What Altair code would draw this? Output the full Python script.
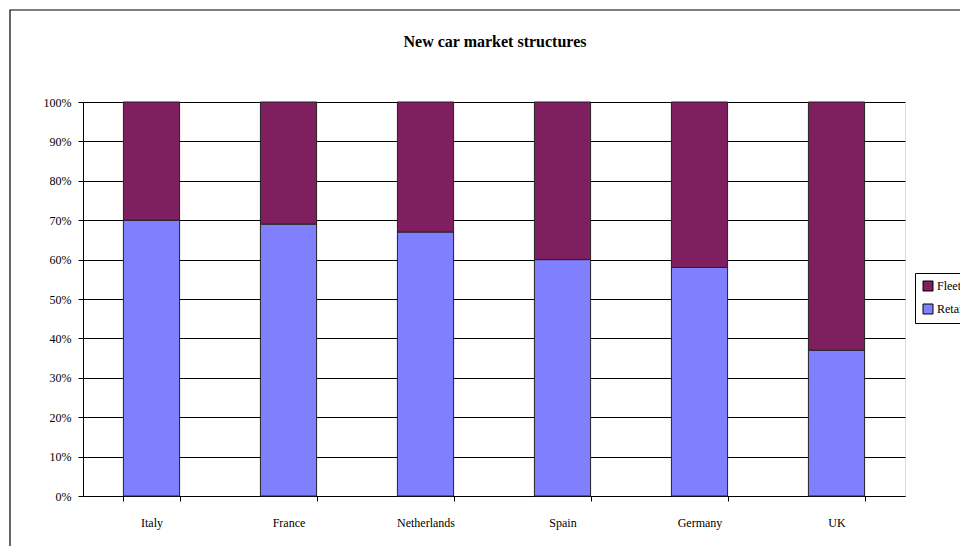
import altair as alt
import pandas as pd

countries = ["Italy", "France", "Netherlands", "Spain", "Germany", "UK"]
retail = [70, 69, 67, 60, 58, 37]
fleet = [30, 31, 33, 40, 42, 63]
series = ["Fleet", "Retail"]
colors = ["#7F1F5F", "#8080FF"]
title_text = "New car market structures"

rows = []
for c, r, f in zip(countries, retail, fleet):
    rows.append({"country": c, "segment": "Retail", "value": r, "ord": 0})
    rows.append({"country": c, "segment": "Fleet", "value": f, "ord": 1})
df = pd.DataFrame(rows)

FONT = "Liberation Serif"
W, H = 822, 394

bars = alt.Chart(df).mark_bar(stroke="#222222", strokeWidth=1).encode(
    x=alt.X("country:N", sort=countries, title=None,
            scale=alt.Scale(paddingInner=0.59, paddingOuter=0.295),
            axis=alt.Axis(labelAngle=0, tickBand="extent", tickSize=5,
                          labelPadding=16, labelFont=FONT, labelFontSize=12,
                          labelColor="black", domainColor="black",
                          tickColor="black", grid=False)),
    y=alt.Y("value:Q", stack="normalize", title=None,
            scale=alt.Scale(domain=[0, 1]),
            axis=alt.Axis(format=".0%", values=[i / 10 for i in range(11)],
                          tickSize=5, labelPadding=7, labelFont=FONT,
                          labelFontSize=12, labelColor="black",
                          domainColor="black", tickColor="black",
                          grid=True, gridColor="black", gridOpacity=1)),
    color=alt.Color("segment:N", sort=series,
                    scale=alt.Scale(domain=series, range=colors),
                    legend=alt.Legend(title=None, orient="none",
                                      legendX=832, legendY=171,
                                      symbolType="square", symbolSize=100,
                                      symbolStrokeColor="black",
                                      symbolStrokeWidth=1,
                                      labelFont=FONT, labelFontSize=12,
                                      labelColor="black",
                                      strokeColor="black", padding=7,
                                      rowPadding=9, labelOffset=3,
                                      fillColor="white")),
    order=alt.Order("ord:Q"),
)

title = alt.Chart(pd.DataFrame({"t": [title_text]})).mark_text(
    font=FONT, fontSize=16, fontWeight="bold", color="black",
    align="center", baseline="middle"
).encode(text="t:N", x=alt.value(412), y=alt.value(-60))

frame = alt.Chart(pd.DataFrame({"a": [0]})).mark_rect(
    fill=None, stroke="black", strokeWidth=1.2, clip=False
).encode(x=alt.value(-73), x2=alt.value(900), y=alt.value(-92), y2=alt.value(460))

chart = alt.layer(frame, bars, title).properties(
    width=W, height=H,
    autosize=alt.AutoSizeParams(type="none"),
    padding={"left": 75, "top": 94, "right": 55, "bottom": 50},
).configure_view(stroke="black", strokeWidth=1).configure(background="white")

chart.save("out.html", embed_options={"renderer": "svg", "actions": False})
